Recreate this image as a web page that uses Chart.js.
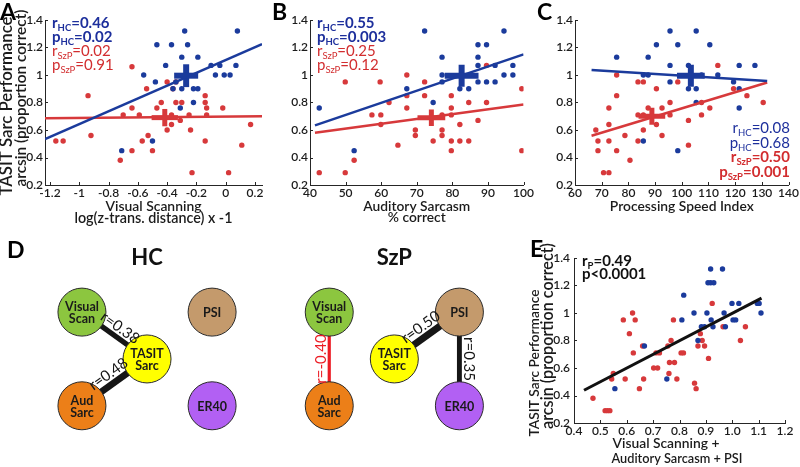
<!DOCTYPE html>
<html>
<head>
<meta charset="utf-8">
<script src="https://cdn.jsdelivr.net/npm/chart.js@4.4.1/dist/chart.umd.min.js"></script>
<style>
  html, body { margin: 0; padding: 0; background: #fff; }
  #fig { position: relative; width: 800px; height: 467px; overflow: hidden; background: #fff; }
  #fig canvas { position: absolute; }
</style>
</head>
<body>
<div id="fig">
  <canvas id="cA" width="270" height="232" style="left:0;top:0"></canvas>
  <canvas id="cB" width="265" height="232" style="left:270px;top:0"></canvas>
  <canvas id="cC" width="265" height="232" style="left:535px;top:0"></canvas>
  <canvas id="cD" width="520" height="235" style="left:0;top:232px"></canvas>
  <canvas id="cE" width="280" height="235" style="left:520px;top:232px"></canvas>
</div>
<script>
// ---- data ----
const yTicks = [0.2, 0.4, 0.6, 0.8, 1, 1.2, 1.4];

// A: visual scanning vs TASIT sarcasm
const aXTicks = [-1.2, -1, -0.8, -0.6, -0.4, -0.2, 0, 0.2];
const aHcX = [-0.28, 0.08, -0.47, -0.37, -0.26, -0.30, -0.19, -0.41, -0.10, -0.04, 0.07, -0.07, -0.01, 0.03, -0.56, -0.48, -0.34, -0.36, -0.30, -0.22, -0.19, -0.22, -0.31, -0.50, -0.71];
const aHcY = [1.32, 1.32, 1.22, 1.22, 1.22, 1.13, 1.13, 1.07, 1.07, 1.07, 1.07, 1.00, 1.00, 1.00, 1.00, 0.95, 0.95, 0.90, 0.90, 0.90, 0.90, 0.80, 0.76, 0.52, 0.45];
const aSzX = [-0.94, -0.64, -0.54, -0.40, -0.34, -0.36, -0.64, -0.70, -0.59, -0.44, -0.47, -0.37, -0.34, -0.30, -0.25, -0.14, -0.14, -0.13, -0.13, -0.02, -0.37, -0.31, -0.53, -0.40, -0.24, -0.14, -0.57, -0.92, -1.16, -1.11, -0.64, -0.50, -0.72, -0.23, 0.02, 0.11, 0.17];
const aSzY = [0.85, 1.06, 0.90, 0.95, 0.95, 0.90, 0.76, 0.71, 0.71, 0.80, 0.76, 0.71, 0.80, 0.80, 0.71, 0.85, 0.80, 0.76, 0.71, 0.76, 0.64, 0.67, 0.56, 0.60, 0.60, 0.52, 0.52, 0.56, 0.52, 0.52, 0.45, 0.45, 0.38, 0.29, 0.29, 0.49, 0.64];
const aHcFitX = [-1.234, 0.248], aHcFitY = [0.534, 1.225];
const aSzFitX = [-1.234, 0.248], aSzFitY = [0.685, 0.700];
const aHcMean = [-0.27, 0.995], aHcSem = [0.082, 0.083];
const aSzMean = [-0.416, 0.69], aSzSem = [0.09, 0.063];
const aR = ['0.46', '0.02'], aP = ['0.02', '0.91'];

// B: auditory sarcasm
const bXTicks = [40, 50, 60, 70, 80, 90, 100];
const bHcX = [42.6, 52.4, 72.2, 67.2, 74.6, 77.1, 77.1, 77.1, 87.2, 89.6, 87.2, 87.2, 87.2, 89.6, 92.0, 92.0, 94.5, 94.5, 97.0, 97.0, 82.1, 84.6];
const bHcY = [0.76, 0.45, 1.32, 0.90, 0.80, 1.13, 1.00, 0.95, 1.22, 1.22, 1.13, 1.07, 0.95, 0.95, 0.95, 1.07, 1.32, 1.00, 1.07, 1.00, 0.90, 0.90];
const bSzX = [42.6, 49.9, 49.9, 52.4, 59.7, 57.4, 59.9, 59.9, 62.2, 64.7, 67.2, 67.2, 67.2, 69.6, 69.6, 72.2, 72.2, 74.6, 77.1, 77.1, 77.1, 79.7, 79.7, 79.7, 79.7, 79.7, 82.1, 82.1, 84.6, 84.6, 87.2, 89.6, 89.6, 99.5, 99.5];
const bSzY = [0.29, 0.95, 0.29, 0.38, 0.95, 0.71, 0.71, 0.64, 0.80, 0.49, 1.00, 0.85, 0.76, 0.60, 0.56, 0.95, 0.85, 0.52, 0.71, 0.60, 0.56, 0.85, 0.76, 0.71, 0.52, 0.45, 0.64, 0.52, 0.80, 0.52, 0.67, 1.07, 0.80, 0.90, 0.45];
const bHcFitX = [41.4, 100], bHcFitY = [0.634, 1.15];
const bSzFitX = [41.4, 100], bSzFitY = [0.58, 0.785];
const bHcMean = [82.6, 0.995], bHcSem = [4.75, 0.08];
const bSzMean = [74.1, 0.69], bSzSem = [3.9, 0.06];
const bR = ['0.55', '0.25'], bP = ['0.003', '0.12'];

// C: processing speed index
const cXTicks = [60, 70, 80, 90, 100, 110, 120, 130, 140];
const cHcX = [75.6, 85.6, 87.4, 87.4, 90.5, 95.6, 98.5, 95.6, 95.6, 105.4, 110.5, 102.5, 102.5, 105.4, 105.4, 107.4, 119.4, 121.5, 121.5, 121.5, 127.4, 85.6, 98.5, 113.5];
const cHcY = [1.13, 1.00, 1.00, 1.13, 1.22, 1.32, 1.22, 1.07, 0.95, 1.32, 1.22, 1.07, 0.90, 0.90, 0.80, 1.00, 0.95, 1.07, 0.90, 0.76, 1.07, 0.52, 0.45, 1.00];
const cSzX = [67.8, 68.6, 68.6, 70.7, 72.7, 72.7, 72.7, 72.7, 75.6, 75.6, 75.6, 78.7, 80.6, 83.6, 83.6, 83.6, 85.6, 85.6, 85.6, 87.4, 90.5, 90.5, 92.6, 92.6, 95.6, 95.6, 98.5, 102.5, 102.5, 107.4, 107.4, 110.5, 113.5, 119.4, 124.4, 130.5];
const cSzY = [0.60, 0.52, 0.45, 0.29, 0.29, 0.52, 0.64, 0.76, 1.00, 0.85, 0.45, 0.56, 0.38, 0.71, 0.52, 0.95, 0.95, 0.71, 0.60, 0.76, 0.90, 0.64, 0.76, 0.56, 0.80, 0.71, 0.95, 0.67, 0.49, 0.80, 0.71, 0.76, 1.07, 0.90, 0.85, 0.80];
const cHcFitX = [66.2, 132], cHcFitY = [1.036, 0.957];
const cSzFitX = [66.2, 132], cSzFitY = [0.558, 0.945];
const cHcMean = [103.4, 0.995], cHcSem = [5.2, 0.08];
const cSzMean = [88.8, 0.70], cSzSem = [5.0, 0.062];
const cR = ['0.08', '0.50'], cP = ['0.68', '0.001'];

// D: correlation networks
const dNodes = ['Visual Scan', 'PSI', 'TASIT Sarc', 'Aud Sarc', 'ER40'];
const dGroups = ['HC', 'SzP'];
const hcEdgeFrom = ['Visual Scan', 'Aud Sarc'];
const hcEdgeTo = ['TASIT Sarc', 'TASIT Sarc'];
const hcEdgeR = [0.38, 0.48];
const szEdgeFrom = ['Aud Sarc', 'TASIT Sarc', 'PSI'];
const szEdgeTo = ['Visual Scan', 'PSI', 'ER40'];
const szEdgeR = [-0.40, 0.50, 0.35];

// E: composite score
const eXTicks = [0.4, 0.5, 0.6, 0.7, 0.8, 0.9, 1.0, 1.1, 1.2];
const eHcX = [0.555, 0.667, 0.752, 0.816, 0.809, 0.855, 0.870, 0.883, 0.895, 0.904, 0.918, 0.908, 0.918, 0.930, 0.920, 0.927, 0.963, 0.969, 0.974, 0.999, 1.003, 1.013, 1.025, 1.095, 1.102, 1.109];
const eHcY = [0.45, 0.76, 0.52, 1.13, 0.95, 1.00, 0.80, 0.90, 0.90, 1.00, 1.32, 1.22, 1.22, 1.22, 0.95, 0.90, 1.32, 1.00, 0.90, 1.07, 0.95, 0.95, 1.07, 1.07, 1.07, 1.00];
const eSzX = [0.472, 0.518, 0.527, 0.536, 0.543, 0.549, 0.587, 0.594, 0.610, 0.622, 0.625, 0.632, 0.660, 0.664, 0.648, 0.702, 0.717, 0.711, 0.724, 0.756, 0.760, 0.762, 0.768, 0.777, 0.781, 0.790, 0.806, 0.815, 0.857, 0.863, 0.870, 0.879, 0.886, 0.895, 0.910, 0.924, 0.965, 1.031, 1.050];
const eSzY = [0.38, 0.29, 0.29, 0.29, 0.52, 0.56, 0.95, 0.52, 0.85, 1.00, 0.71, 0.95, 0.76, 0.52, 0.45, 0.60, 0.60, 0.71, 0.71, 0.76, 0.56, 0.64, 0.80, 0.95, 0.64, 0.52, 0.71, 0.71, 0.49, 0.45, 0.76, 0.85, 0.80, 0.76, 0.67, 1.07, 0.90, 0.80, 0.90];
const eFitX = [0.438, 1.111], eFitY = [0.438, 1.108];
const eR = '0.49', eP = '<0.0001';

// ---- styling ----
const FONT = 'Lato, "Open Sans", sans-serif';
const INK = '#1b1b1b';
const BLUE = '#1b3b9c', RED = '#d7393b';
const BLUE_TXT = '#1d2f9c', RED_TXT = '#d22d2f';
Chart.defaults.font.family = FONT;
Chart.defaults.color = INK;

function pts(xs, ys) { return xs.map((x, i) => ({ x: x, y: ys[i] })); }

function dots(xs, ys, color) {
  return { data: pts(xs, ys), pointRadius: 2.7, backgroundColor: color, borderWidth: 0, order: 3 };
}
function fitLine(xs, ys, color) {
  return { data: pts(xs, ys), showLine: true, borderColor: color, borderWidth: 2.5, pointRadius: 0, order: 2 };
}
function crossBars(mean, sem, color, width) {
  const base = { showLine: true, borderColor: color, borderWidth: width, borderCapStyle: 'butt', pointRadius: 0, order: 1 };
  return [
    Object.assign({ data: [{ x: mean[0] - sem[0], y: mean[1] }, { x: mean[0] + sem[0], y: mean[1] }] }, base),
    Object.assign({ data: [{ x: mean[0], y: mean[1] - sem[1] }, { x: mean[0], y: mean[1] + sem[1] }] }, base)
  ];
}

// four stat lines: r/p for HC in blue, r/p for SzP in red, bold when p < .05
function statLines(r, p, x, y0, step, align) {
  const out = [];
  ['HC', 'SzP'].forEach((g, i) => {
    const bold = parseFloat(p[i]) < 0.05;
    const color = i === 0 ? BLUE_TXT : RED_TXT;
    out.push({ sym: 'r', sub: g, rest: '=' + r[i], bold, color, x, y: y0 + step * (2 * i), align });
    out.push({ sym: 'p', sub: g, rest: '=' + p[i], bold, color, x, y: y0 + step * (2 * i + 1), align });
  });
  return out;
}

function drawStat(ctx, s) {
  const w = s.bold ? 'bold ' : '';
  const big = w + '15px ' + FONT, small = w + '9.5px ' + FONT;
  ctx.font = big;
  const w1 = ctx.measureText(s.sym).width, w3 = ctx.measureText(s.rest).width;
  ctx.font = small;
  const w2 = ctx.measureText(s.sub).width;
  const x = s.align === 'right' ? s.x - (w1 + w2 + w3) : s.x;
  ctx.fillStyle = s.color;
  ctx.textAlign = 'left';
  ctx.textBaseline = 'alphabetic';
  ctx.font = big; ctx.fillText(s.sym, x, s.y);
  ctx.font = small; ctx.fillText(s.sub, x + w1, s.y + 3);
  ctx.font = big; ctx.fillText(s.rest, x + w1 + w2, s.y);
}

// font size that makes a title line span the wanted length
function fitSize(ctx, text, len) {
  ctx.font = '600 20px ' + FONT;
  return 20 * len / ctx.measureText(text).width;
}

const decor = {
  id: 'decor',
  afterDraw(chart, args, o) {
    const ctx = chart.ctx, a = chart.chartArea;
    ctx.save();
    if (o.ticksIn) {
      const xs = chart.scales.x, ys = chart.scales.y;
      ctx.strokeStyle = '#262626';
      ctx.lineWidth = 1;
      ctx.beginPath();
      xs.ticks.forEach(t => {
        const p = Math.round(xs.getPixelForValue(t.value)) + 0.5;
        ctx.moveTo(p, a.bottom); ctx.lineTo(p, a.bottom - 3);
      });
      ys.ticks.forEach(t => {
        const p = Math.round(ys.getPixelForValue(t.value)) + 0.5;
        ctx.moveTo(a.left, p); ctx.lineTo(a.left + 3, p);
      });
      ctx.stroke();
    }
    ctx.fillStyle = INK;
    ctx.textAlign = 'center';
    ctx.textBaseline = 'alphabetic';
    // x axis title lines
    (o.xTitle || []).forEach(t => {
      ctx.font = '600 ' + fitSize(ctx, t.text, t.len).toFixed(2) + 'px ' + FONT;
      ctx.fillText(t.text, t.x !== undefined ? t.x : (a.left + a.right) / 2, t.y);
    });
    // y axis title lines, rotated
    ctx.textBaseline = 'middle';
    (o.yTitle || []).forEach(t => {
      const size = fitSize(ctx, t.text, t.len);
      ctx.save();
      ctx.translate(t.x, t.y);
      ctx.rotate(-Math.PI / 2);
      ctx.font = '600 ' + size.toFixed(2) + 'px ' + FONT;
      ctx.fillText(t.text, 0, 0);
      ctx.restore();
    });
    if (o.letter) {
      ctx.font = 'bold 23px ' + FONT;
      ctx.fillStyle = '#000';
      ctx.textAlign = 'left';
      ctx.textBaseline = 'alphabetic';
      ctx.fillText(o.letter[0], o.letter[1], o.letter[2]);
    }
    (o.stats || []).forEach(s => drawStat(ctx, s));
    ctx.restore();
  }
};
Chart.register(decor);

const tickFont = { size: 12, weight: '600' };

function scatterPanel(id, p) {
  return new Chart(document.getElementById(id), {
    type: 'scatter',
    data: { datasets: p.datasets },
    options: {
      responsive: false,
      animation: false,
      events: [],
      devicePixelRatio: 1,
      layout: { padding: p.pad },
      plugins: { legend: { display: false }, tooltip: { enabled: false }, decor: p.decor },
      scales: {
        x: {
          type: 'linear', min: p.xMin, max: p.xMax,
          afterBuildTicks: s => { s.ticks = p.xTicks.map(v => ({ value: v })); },
          afterFit: s => { s.height = p.xH; },
          ticks: { font: tickFont, color: INK, padding: 1, maxRotation: 0, autoSkip: false,
                   callback: p.xFmt || (v => String(v)) },
          grid: { display: false, drawTicks: false },
          border: { color: '#262626', width: 1 }
        },
        y: {
          type: 'linear', min: 0.2, max: 1.4,
          afterBuildTicks: s => { s.ticks = yTicks.map(v => ({ value: v })); },
          afterFit: s => { s.width = p.yW; },
          ticks: { font: tickFont, color: INK, padding: p.yPad, autoSkip: false, callback: v => String(v) },
          grid: { display: false, drawTicks: false },
          border: { color: '#262626', width: 1 }
        }
      }
    }
  });
}

const yTitleA = 'TASIT Sarc Performance', yTitleB = 'arcsin (proportion correct)';

scatterPanel('cA', {
  datasets: [
    ...crossBars(aHcMean, aHcSem, BLUE, 6), ...crossBars(aSzMean, aSzSem, RED, 5),
    fitLine(aHcFitX, aHcFitY, BLUE), fitLine(aSzFitX, aSzFitY, RED),
    dots(aHcX, aHcY, BLUE), dots(aSzX, aSzY, RED)
  ],
  pad: { top: 20, right: 8, bottom: 0, left: 0 },
  xMin: -1.234, xMax: 0.248, xTicks: aXTicks, xH: 47, yW: 45, yPad: 2,
  decor: {
    ticksIn: true, letter: ['A', 0, 20], stats: statLines(aR, aP, 52, 28, 14, 'left'),
    xTitle: [{ text: 'Visual Scanning', len: 96, y: 211 }, { text: 'log(z-trans. distance) x -1', len: 158, y: 223 }],
    yTitle: [{ text: yTitleA, len: 179, x: 7, y: 106 }, { text: yTitleB, len: 177, x: 21, y: 98 }]
  }
});

scatterPanel('cB', {
  datasets: [
    ...crossBars(bHcMean, bHcSem, BLUE, 6), ...crossBars(bSzMean, bSzSem, RED, 5),
    fitLine(bHcFitX, bHcFitY, BLUE), fitLine(bSzFitX, bSzFitY, RED),
    dots(bHcX, bHcY, BLUE), dots(bSzX, bSzY, RED)
  ],
  pad: { top: 20, right: 7, bottom: 0, left: 0 },
  xMin: 40, xMax: 100, xTicks: bXTicks, xH: 47, yW: 40, yPad: 2,
  decor: {
    ticksIn: true, letter: ['B', 2, 20], stats: statLines(bR, bP, 47, 28, 14, 'left'),
    xTitle: [{ text: 'Auditory Sarcasm', len: 107, y: 211 }, { text: '% correct', len: 58, y: 222 }]
  }
});

scatterPanel('cC', {
  datasets: [
    ...crossBars(cHcMean, cHcSem, BLUE, 6), ...crossBars(cSzMean, cSzSem, RED, 5),
    fitLine(cHcFitX, cHcFitY, BLUE), fitLine(cSzFitX, cSzFitY, RED),
    dots(cHcX, cHcY, BLUE), dots(cSzX, cSzY, RED)
  ],
  pad: { top: 20, right: 8, bottom: 0, left: 0 },
  xMin: 60, xMax: 140, xTicks: cXTicks, xH: 47, yW: 40, yPad: 2,
  decor: {
    ticksIn: true, letter: ['C', 2, 20], stats: statLines(cR, cP, 255, 133, 14.5, 'right'),
    xTitle: [{ text: 'Processing Speed Index', len: 144, y: 211 }]
  }
});

scatterPanel('cE', {
  datasets: [
    Object.assign(fitLine(eFitX, eFitY, '#111'), { borderWidth: 3 }),
    dots(eHcX, eHcY, BLUE), dots(eSzX, eSzY, RED)
  ],
  pad: { top: 26, right: 15, bottom: 0, left: 0 },
  xMin: 0.4, xMax: 1.2, xTicks: eXTicks, xH: 44, yW: 54, yPad: 4,
  xFmt: v => v.toFixed(1),
  decor: {
    ticksIn: true, letter: ['E', 10, 25],
    stats: [
      { sym: 'r', sub: 'P', rest: '=' + eR, bold: true, color: '#111', x: 62, y: 34 },
      { sym: 'p', sub: '', rest: eP, bold: true, color: '#111', x: 62, y: 47 }
    ],
    xTitle: [{ text: 'Visual Scanning +', len: 107, x: 146, y: 216 }, { text: 'Auditory Sarcasm + PSI', len: 131, x: 157, y: 231 }],
    yTitle: [{ text: yTitleA, len: 147, x: 15, y: 131 }, { text: yTitleB, len: 186, x: 28, y: 104 }]
  }
});

// ---- D: network layout (grid slot per node, groups side by side) ----
const nodeSlot = { 'Visual Scan': [0, 0], 'PSI': [2, 0], 'TASIT Sarc': [1, 1], 'Aud Sarc': [0, 2], 'ER40': [2, 2] };
const groupShift = [0, 3.8];
const nodeFill = { 'Visual Scan': '#8cc63f', 'PSI': '#c49a6c', 'TASIT Sarc': '#ffff00', 'Aud Sarc': '#ec7f18', 'ER40': '#b260f3' };
const EDGE_POS = '#161616', EDGE_NEG = '#ec1c24';

function slot(name, gi) { return { x: nodeSlot[name][0] + groupShift[gi], y: nodeSlot[name][1] }; }

const nodeData = [], nodeColors = [];
dGroups.forEach((g, gi) => dNodes.forEach(n => { nodeData.push(Object.assign(slot(n, gi), { name: n })); nodeColors.push(nodeFill[n]); }));

function edgeSets(from, to, r, gi) {
  return from.map((f, i) => ({
    data: [slot(f, gi), slot(to[i], gi)],
    label: 'r=' + r[i].toFixed(2),
    showLine: true, clip: false, pointRadius: 0, order: 1,
    borderColor: r[i] < 0 ? EDGE_NEG : EDGE_POS,
    borderWidth: Math.abs(r[i]) * (r[i] < 0 ? 8 : 14),
    borderCapStyle: 'butt'
  }));
}

const netLabels = {
  id: 'netLabels',
  afterDatasetsDraw(chart) {
    const ctx = chart.ctx;
    ctx.save();
    chart.data.datasets.forEach((ds, i) => {
      const meta = chart.getDatasetMeta(i);
      if (ds.isNodes) {
        ctx.font = 'bold 12.5px ' + FONT;
        ctx.fillStyle = '#1a1a1a';
        ctx.textAlign = 'center';
        ctx.textBaseline = 'middle';
        meta.data.forEach((pt, k) => {
          const lines = ds.data[k].name.split(' ');
          lines.forEach((ln, j) => ctx.fillText(ln, pt.x, pt.y + 1 + (j - (lines.length - 1) / 2) * 12.5));
        });
        return;
      }
      const a = meta.data[0], b = meta.data[1];
      const ang = Math.atan2(b.y - a.y, b.x - a.x);
      const mx = (a.x + b.x) / 2, my = (a.y + b.y) / 2;
      const off = ds.borderWidth / 2 + 2;
      ctx.save();
      ctx.translate(mx + Math.sin(ang) * off, my - Math.cos(ang) * off);
      ctx.rotate(ang);
      ctx.font = '15px ' + FONT;
      ctx.fillStyle = ds.borderColor;
      ctx.textAlign = 'center';
      ctx.textBaseline = 'alphabetic';
      ctx.fillText(ds.label, 0, 0);
      ctx.restore();
    });
    // group titles over the middle column, and the panel letter
    ctx.font = 'bold 22px ' + FONT;
    ctx.fillStyle = '#111';
    ctx.textAlign = 'center';
    ctx.textBaseline = 'middle';
    dGroups.forEach((g, gi) => ctx.fillText(g, chart.scales.x.getPixelForValue(1 + groupShift[gi]), 26));
    ctx.font = 'bold 23px ' + FONT;
    ctx.fillStyle = '#000';
    ctx.textAlign = 'left';
    ctx.textBaseline = 'alphabetic';
    ctx.fillText('D', 7, 26);
    ctx.restore();
  }
};

new Chart(document.getElementById('cD'), {
  type: 'scatter',
  data: {
    datasets: [
      { data: nodeData, isNodes: true, pointRadius: 24, backgroundColor: nodeColors, borderColor: '#2a2a2a', borderWidth: 1, clip: false, order: 0 },
      ...edgeSets(hcEdgeFrom, hcEdgeTo, hcEdgeR, 0),
      ...edgeSets(szEdgeFrom, szEdgeTo, szEdgeR, 1)
    ]
  },
  options: {
    responsive: false, animation: false, events: [], devicePixelRatio: 1,
    layout: { padding: 0 },
    plugins: { legend: { display: false }, tooltip: { enabled: false } },
    scales: {
      x: { type: 'linear', display: false, min: -0.875, max: 6.347 },
      y: { type: 'linear', display: false, min: -1.1765, max: 2.773, reverse: true }
    }
  },
  plugins: [netLabels]
});
</script>
</body>
</html>
